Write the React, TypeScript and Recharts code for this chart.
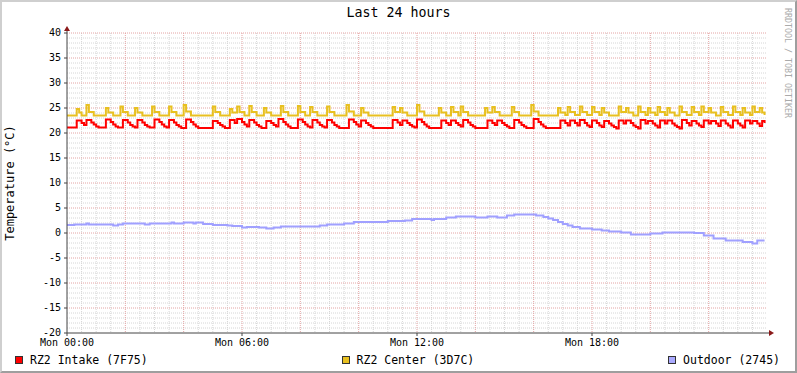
import { LineChart, Line, XAxis, YAxis, CartesianGrid, ReferenceDot } from 'recharts';

// x values are 5-minute steps since Mon 00:00 (288 steps = 24 h)
const timeTicks = [0, 72, 144, 216];
const timeLabels = ['Mon 00:00', 'Mon 06:00', 'Mon 12:00', 'Mon 18:00'];
const tempTicks = [40, 35, 30, 25, 20, 15, 10, 5, 0, -5, -10, -15, -20];

const seriesNames = ['RZ2 Intake (7F75)', 'RZ2 Center (3D7C)', 'Outdoor (2745)'];
const seriesColors = ['#ff0000', '#e8c020', '#a0a0ff'];
const legendColors = ['#ff0000', '#e8c020', '#aaaaff'];

// [step, °C] change points
const intake: [number, number][] = [
  [0, 21.1],
  [4, 22.5], [6, 22.0], [7, 21.6],
  [8, 22.6], [10, 22.1], [11, 21.7], [12, 21.3], [13, 21.1],
  [16, 22.7], [18, 22.2], [19, 21.7], [20, 21.3], [21, 21.1],
  [23, 22.6], [25, 22.1], [26, 21.6], [27, 21.3], [28, 21.1],
  [29, 22.6], [31, 22.1], [32, 21.6], [33, 21.3], [34, 21.1],
  [36, 22.7], [38, 22.2], [39, 21.7], [40, 21.3], [41, 21.1],
  [42, 22.6], [44, 22.1], [45, 21.6], [46, 21.3], [47, 21.0],
  [49, 22.7], [51, 22.2], [52, 21.7], [53, 21.3], [54, 21.0],
  [60, 22.4], [62, 22.0], [63, 21.6], [64, 21.3], [65, 21.0],
  [67, 22.6], [69, 22.0],
  [70, 22.8], [72, 22.2], [73, 21.7], [74, 21.3],
  [75, 22.6], [77, 22.1], [78, 21.6], [79, 21.3], [80, 21.0],
  [82, 22.4], [84, 22.0], [85, 21.6], [86, 21.3],
  [87, 22.8], [89, 22.2], [90, 21.7], [91, 21.3], [92, 21.0],
  [95, 22.7], [97, 22.2], [98, 21.7], [99, 21.3], [100, 21.1],
  [101, 22.6], [103, 22.1], [104, 21.6], [105, 21.3], [106, 21.1],
  [107, 22.6], [109, 22.1], [110, 21.6], [111, 21.3], [112, 21.0],
  [116, 22.7], [118, 22.2], [119, 21.7], [120, 21.3],
  [121, 22.5], [123, 22.0], [124, 21.6], [125, 21.3], [126, 21.0],
  [134, 22.6], [136, 22.1], [137, 21.6],
  [138, 22.5], [140, 22.0], [141, 21.6], [142, 21.3], [143, 21.1],
  [144, 22.7], [146, 22.2], [147, 21.7], [148, 21.3], [149, 21.0],
  [154, 22.5], [156, 22.0], [157, 21.6],
  [158, 22.5], [160, 22.0], [161, 21.6], [162, 21.3],
  [163, 22.6], [165, 22.1], [166, 21.6], [167, 21.3], [168, 21.0],
  [173, 22.5], [175, 22.0], [176, 21.6],
  [177, 22.5], [179, 22.0], [180, 21.6], [181, 21.3], [182, 21.0],
  [184, 22.6], [186, 22.1], [187, 21.6], [188, 21.3], [189, 21.0],
  [192, 22.8], [194, 22.2], [195, 21.7], [196, 21.3], [197, 21.0],
  [203, 22.5], [205, 22.0], [206, 21.5],
  [207, 22.5], [209, 22.0], [210, 21.5],
  [211, 22.6], [213, 22.0], [214, 21.5], [215, 21.2],
  [216, 22.5], [218, 22.0], [219, 21.5], [220, 21.2],
  [221, 22.4], [223, 21.9], [224, 21.5], [225, 21.2], [226, 20.9],
  [227, 22.5], [229, 21.9],
  [230, 22.5], [232, 22.0], [233, 21.5], [234, 21.2], [235, 20.9],
  [236, 22.6], [238, 21.9],
  [239, 22.4], [241, 21.9], [242, 21.5], [243, 21.1],
  [244, 22.5], [246, 21.9],
  [247, 22.5], [249, 21.9], [250, 21.5], [251, 21.2], [252, 20.9],
  [253, 22.6], [255, 22.0], [256, 21.5],
  [257, 22.4], [259, 21.9], [260, 21.5], [261, 21.2],
  [262, 22.5], [264, 21.9],
  [265, 22.4], [267, 21.9], [268, 21.4],
  [269, 22.5], [271, 21.9], [272, 21.5], [273, 21.1],
  [274, 22.5], [276, 21.9], [277, 21.5], [278, 21.1],
  [279, 22.5], [281, 21.9],
  [282, 22.4], [284, 21.9], [285, 21.4],
  [286, 22.4], [287, 22.0],
];

const center: [number, number][] = [
  [0, 23.5],
  [4, 24.8], [5, 24.1], [6, 23.5],
  [8, 25.6], [9, 24.2], [11, 23.5],
  [16, 25.0], [17, 24.1], [19, 23.5],
  [22, 25.3], [23, 24.2], [25, 23.5],
  [28, 25.0], [29, 24.1], [31, 23.5],
  [35, 25.3], [36, 24.2], [38, 23.5],
  [42, 25.3], [43, 24.2], [45, 23.5],
  [48, 25.6], [49, 24.3], [51, 23.5],
  [60, 25.3], [61, 24.2], [63, 23.5],
  [67, 24.8], [68, 24.1], [70, 25.3], [71, 24.2], [73, 23.5],
  [75, 25.4], [76, 24.2], [78, 23.5],
  [81, 25.0], [82, 24.1], [84, 23.5],
  [88, 25.4], [89, 24.2], [91, 23.5],
  [95, 25.4], [96, 24.2], [98, 23.5],
  [100, 25.2], [101, 24.2], [103, 23.5],
  [107, 25.3], [108, 24.2], [110, 23.5],
  [115, 25.6], [116, 24.3], [118, 23.5],
  [121, 25.0], [122, 24.1], [124, 23.5],
  [134, 25.2], [135, 24.2], [137, 25.0], [138, 24.1], [140, 23.5],
  [144, 25.6], [145, 24.3], [147, 23.5],
  [153, 25.0], [154, 24.1], [156, 23.5],
  [158, 25.2], [159, 24.2], [161, 23.5],
  [162, 25.3], [163, 24.2], [165, 23.5],
  [172, 25.0], [173, 24.1], [175, 25.2], [176, 24.2], [178, 23.5],
  [183, 25.2], [184, 24.2], [186, 23.5],
  [191, 25.6], [192, 24.3], [194, 23.5],
  [202, 25.0], [203, 24.1], [205, 23.6],
  [206, 25.2], [207, 24.2], [209, 23.6],
  [211, 25.3], [212, 24.2], [214, 23.6],
  [216, 25.2], [217, 24.2], [219, 23.6],
  [220, 25.0], [221, 24.1], [223, 23.5],
  [227, 25.3], [228, 24.2], [230, 25.0], [231, 24.1], [233, 23.5],
  [235, 25.3], [236, 24.2], [238, 23.6],
  [239, 25.0], [240, 24.1], [242, 23.6],
  [243, 25.2], [244, 24.2], [246, 23.6],
  [247, 25.0], [248, 24.1], [250, 23.5],
  [252, 25.3], [253, 24.2], [255, 23.6],
  [257, 25.2], [258, 24.2], [260, 23.6],
  [261, 25.3], [262, 24.2], [264, 25.0], [265, 24.1], [267, 23.5],
  [269, 25.2], [270, 24.2], [272, 23.6],
  [274, 25.3], [275, 24.2], [277, 23.6],
  [278, 25.0], [279, 24.1], [281, 23.6],
  [282, 25.3], [283, 24.2], [285, 25.0], [286, 24.1], [287, 23.6],
];

const outdoor: [number, number][] = [
  [0, 1.6], [3, 1.7], [8, 1.9], [9, 1.7], [19, 1.5], [21, 1.7], [23, 1.9],
  [32, 1.7], [34, 1.9], [43, 2.1], [44, 1.9], [48, 2.1], [52, 1.9], [53, 2.1],
  [56, 1.8], [60, 1.6], [66, 1.5], [68, 1.4], [72, 1.1], [74, 1.2], [79, 1.1],
  [82, 0.9], [85, 1.1], [88, 1.3], [104, 1.5], [107, 1.7], [114, 1.9], [118, 2.2],
  [132, 2.4], [139, 2.5], [142, 2.8], [150, 2.6], [151, 2.8], [156, 3.1], [160, 3.3],
  [168, 3.1], [173, 3.3], [177, 3.1], [181, 3.5], [184, 3.7], [193, 3.5], [196, 3.2],
  [198, 2.9], [200, 2.6], [202, 2.2], [204, 1.8], [206, 1.5], [208, 1.2], [211, 0.9],
  [216, 0.7], [220, 0.5], [223, 0.3], [228, 0.1], [232, -0.3], [240, -0.1], [245, 0.1],
  [258, 0.0], [262, -0.5], [266, -1.1], [271, -1.5], [278, -1.8], [282, -2.1],
  [284, -1.5], [287, -1.5],
];

const series = [intake, center, outdoor];

const FONT = '"DejaVu Sans Mono", monospace';

const minorX = Array.from({ length: 48 }, (_, i) => i * 6).filter((v) => v % 24 !== 0);
const majorX = Array.from({ length: 12 }, (_, i) => i * 24).filter((v) => v > 0);
const minorY = Array.from({ length: 61 }, (_, i) => i - 20).filter((v) => v % 5 !== 0);
const majorY = tempTicks.filter((v) => v > -20);

const XArrow = (p: any) => (
  <g>
    <line x1={p.cx} y1={p.cy} x2={p.cx + 3} y2={p.cy} stroke="#444" />
    <path d={`M${p.cx + 2},${p.cy - 3} L${p.cx + 7},${p.cy} L${p.cx + 2},${p.cy + 3} Z`} fill="#8b1a1a" />
  </g>
);

const YArrow = (p: any) => (
  <g>
    <line x1={p.cx} y1={p.cy} x2={p.cx} y2={p.cy - 3} stroke="#444" />
    <path d={`M${p.cx - 3},${p.cy - 2} L${p.cx},${p.cy - 7} L${p.cx + 3},${p.cy - 2} Z`} fill="#8b1a1a" />
  </g>
);

const YLabel = (props: any) => {
  const vb = props.viewBox;
  const x = vb.x + 10;
  const y = vb.y + vb.height / 2;
  return (
    <text
      x={x}
      y={y}
      transform={`rotate(-90, ${x}, ${y})`}
      textAnchor="middle"
      dominantBaseline="central"
      fontSize={12}
      fontFamily={FONT}
      fill="#000"
    >
      Temperature (°C)
    </text>
  );
};

export default function App() {
  return (
    <div style={{ position: 'absolute', left: 0, top: 0, width: 797, height: 373, background: '#fff', fontFamily: FONT }}>
      <LineChart width={797} height={373} margin={{ top: 33, right: 30, bottom: 0, left: 0 }}>
        <CartesianGrid
          stroke="#d6d6d6"
          strokeDasharray="1 1"
          verticalValues={minorX}
          horizontalValues={minorY}
        />
        <CartesianGrid
          stroke="#e4a4a4"
          strokeDasharray="1 1"
          verticalValues={majorX}
          horizontalValues={majorY}
        />
        <XAxis
          dataKey="s"
          type="number"
          domain={[0, 288]}
          ticks={timeTicks}
          interval={0}
          height={40}
          tickFormatter={(v) => timeLabels[timeTicks.indexOf(v)]}
          tick={{ fontSize: 10, fill: '#000', fontFamily: FONT }}
          tickSize={3}
          tickMargin={3}
          axisLine={{ stroke: '#444' }}
          tickLine={{ stroke: '#444' }}
          allowDataOverflow
        />
        <YAxis
          type="number"
          domain={[-20, 40]}
          ticks={tempTicks}
          interval={0}
          width={67}
          tick={{ fontSize: 10, fill: '#000', fontFamily: FONT, dy: -1 }}
          tickSize={3}
          tickMargin={3}
          axisLine={{ stroke: '#444' }}
          tickLine={{ stroke: '#444' }}
          allowDataOverflow
          label={YLabel}
        />
        {series.map((pts, i) => (
          <Line
            key={seriesNames[i]}
            data={pts.map(([s, t]) => ({ s, t }))}
            dataKey="t"
            name={seriesNames[i]}
            type="stepAfter"
            stroke={seriesColors[i]}
            strokeWidth={2}
            dot={false}
            activeDot={false}
            isAnimationActive={false}
          />
        ))}
        <ReferenceDot x={288} y={-20} r={0} shape={XArrow} ifOverflow="visible" />
        <ReferenceDot x={0} y={40} r={0} shape={YArrow} ifOverflow="visible" />
      </LineChart>

      <div style={{ position: 'absolute', left: 0, top: 5, width: 797, textAlign: 'center', fontSize: 13.3, lineHeight: '16px', color: '#000' }}>
        Last 24 hours
      </div>

      <div style={{ position: 'absolute', left: 783, top: 8, writingMode: 'vertical-rl', fontSize: 8.3, lineHeight: '10px', color: '#aaa', whiteSpace: 'nowrap' }}>
        RRDTOOL / TOBI OETIKER
      </div>

      <div style={{ position: 'absolute', left: 15, top: 352, width: 765, height: 15, display: 'flex', justifyContent: 'space-between', alignItems: 'center', fontSize: 11.5, color: '#000', whiteSpace: 'pre' }}>
        {seriesNames.map((name, i) => (
          <div key={name} style={{ display: 'flex', alignItems: 'center' }}>
            <span style={{ display: 'inline-block', width: 8, height: 8, boxSizing: 'border-box', border: '1px solid #333', background: legendColors[i], marginRight: 7 }} />
            <span>{name}</span>
          </div>
        ))}
      </div>

      <div style={{ position: 'absolute', left: 0, top: 0, width: 797, height: 373, boxSizing: 'border-box', borderTop: '2px solid #cfcfcf', borderLeft: '2px solid #cfcfcf', borderBottom: '2px solid #9e9e9e', borderRight: '2px solid #9e9e9e', pointerEvents: 'none' }} />
    </div>
  );
}
